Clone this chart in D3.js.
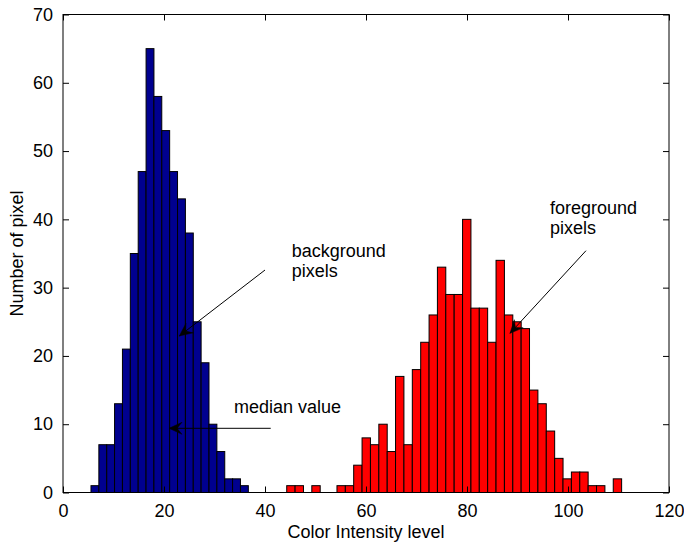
<!DOCTYPE html>
<html>
<head>
<meta charset="utf-8">
<script src="https://cdn.jsdelivr.net/npm/d3@7/dist/d3.min.js"></script>
<style>
  html, body { margin: 0; padding: 0; background: #fff; }
  svg { display: block; }
  text { font-family: "Liberation Sans", Arial, Helvetica, sans-serif; fill: #000; }
</style>
</head>
<body>
<svg id="chart" width="684" height="542"></svg>
<script>
// Histogram of background pixel intensities (bin centres and counts)
const backgroundBins = [6.32, 7.88, 9.44, 10.99, 12.55, 14.11, 15.67, 17.23, 18.78, 20.34,
                        21.90, 23.46, 25.02, 26.57, 28.13, 29.69, 31.25, 32.81, 34.36, 35.92];
const backgroundCounts = [1, 7, 7, 13, 21, 35, 47, 65, 58, 53,
                          47, 43, 38, 25, 19, 10, 6, 2, 2, 1];
const backgroundBinWidth = 1.558;

// Histogram of foreground pixel intensities
const foregroundBins = [45.13, 46.79, 48.45, 50.10, 51.76, 53.42, 55.08, 56.74, 58.39, 60.05,
                        61.71, 63.37, 65.03, 66.68, 68.34, 70.00, 71.66, 73.32, 74.97, 76.63,
                        78.29, 79.95, 81.61, 83.26, 84.92, 86.58, 88.24, 89.90, 91.55, 93.21,
                        94.87, 96.53, 98.19, 99.84, 101.50, 103.16, 104.82, 106.48, 108.13, 109.79];
const foregroundCounts = [1, 1, 0, 1, 0, 0, 1, 1, 4, 8,
                          7, 10, 6, 17, 7, 18, 22, 26, 33, 29,
                          29, 40, 27, 27, 22, 34, 26, 25, 24, 15,
                          13, 9, 5, 2, 3, 3, 1, 1, 0, 2];
const foregroundBinWidth = 1.658;

// Axis ticks
const xTicks = [0, 20, 40, 60, 80, 100, 120];
const yTicks = [0, 10, 20, 30, 40, 50, 60, 70];

// Text annotations with arrows (data coordinates)
const notes = [
  { lines: ["background", "pixels"], tx: 45.29, ty: 34.56, from: [40.0, 32.58], to: [23.03, 22.92] },
  { lines: ["median value"],         tx: 33.86, ty: 11.6,  from: [41.13, 9.40], to: [20.99, 9.40] },
  { lines: ["foreground", "pixels"], tx: 96.44, ty: 40.78, from: [103.56, 35.41], to: [88.51, 23.31] }
];

const svg = d3.select("#chart");
const plotLeft = 63, plotRight = 669, plotTop = 14.5, plotBottom = 492.5;
const fontSize = 18;

const x = d3.scaleLinear().domain([0, 120]).range([plotLeft, plotRight]);
const y = d3.scaleLinear().domain([0, 70]).range([plotBottom, plotTop]);

function drawBars(bins, counts, width, color) {
  const rows = bins.map((c, i) => ({ c, n: counts[i] })).filter(d => d.n > 0);
  svg.append("g")
    .selectAll("rect")
    .data(rows)
    .join("rect")
    .attr("x", d => x(d.c - width / 2))
    .attr("y", d => y(d.n))
    .attr("width", d => x(d.c + width / 2) - x(d.c - width / 2))
    .attr("height", d => y(0) - y(d.n))
    .attr("fill", color)
    .attr("stroke", "#000")
    .attr("stroke-width", 1);
}

drawBars(backgroundBins, backgroundCounts, backgroundBinWidth, "#00008f");
drawBars(foregroundBins, foregroundCounts, foregroundBinWidth, "#ff0000");

// Axes with inward ticks on all four sides
const tickLen = 6;
const gx = svg.append("g").attr("transform", `translate(0,${plotBottom})`)
  .call(d3.axisBottom(x).tickValues(xTicks).tickSizeInner(-tickLen).tickSizeOuter(0).tickPadding(11.5));
const gy = svg.append("g").attr("transform", `translate(${plotLeft},0)`)
  .call(d3.axisLeft(y).tickValues(yTicks).tickSizeInner(-tickLen).tickSizeOuter(0).tickPadding(10));
const gxt = svg.append("g").attr("transform", `translate(0,${plotTop})`)
  .call(d3.axisTop(x).tickValues(xTicks).tickSizeInner(-tickLen).tickSizeOuter(0).tickFormat(""));
const gyr = svg.append("g").attr("transform", `translate(${plotRight},0)`)
  .call(d3.axisRight(y).tickValues(yTicks).tickSizeInner(-tickLen).tickSizeOuter(0).tickFormat(""));

[gx, gy, gxt, gyr].forEach(g => {
  g.select(".domain").remove();
  g.selectAll(".tick line").attr("stroke", "#000").attr("stroke-width", 1);
  g.selectAll("text").attr("font-size", fontSize).attr("font-family", null).attr("fill", "#000");
});

svg.append("rect")
  .attr("x", plotLeft).attr("y", plotTop)
  .attr("width", plotRight - plotLeft).attr("height", plotBottom - plotTop)
  .attr("fill", "none").attr("stroke", "#000").attr("stroke-width", 1);

// Axis titles
svg.append("text")
  .attr("x", (plotLeft + plotRight) / 2).attr("y", 538)
  .attr("text-anchor", "middle").attr("font-size", fontSize)
  .text("Color Intensity level");

svg.append("text")
  .attr("transform", `translate(23,${(plotTop + plotBottom) / 2}) rotate(-90)`)
  .attr("text-anchor", "middle").attr("font-size", fontSize)
  .text("Number of pixel");

// Annotations
const ann = svg.append("g");
notes.forEach(n => {
  const t = ann.append("text")
    .attr("x", x(n.tx)).attr("y", y(n.ty))
    .attr("font-size", fontSize);
  n.lines.forEach((line, i) => {
    t.append("tspan").attr("x", x(n.tx)).attr("dy", i === 0 ? 0 : 20).text(line);
  });

  const x0 = x(n.from[0]), y0 = y(n.from[1]);
  const x1 = x(n.to[0]), y1 = y(n.to[1]);
  ann.append("line")
    .attr("x1", x0).attr("y1", y0).attr("x2", x1).attr("y2", y1)
    .attr("stroke", "#000").attr("stroke-width", 1);

  const len = Math.hypot(x1 - x0, y1 - y0);
  const ux = (x1 - x0) / len, uy = (y1 - y0) / len;
  const nx = -uy, ny = ux;
  const L = 13, W = 6, notch = 8;
  const pts = [
    [x1, y1],
    [x1 - L * ux + W * nx, y1 - L * uy + W * ny],
    [x1 - notch * ux, y1 - notch * uy],
    [x1 - L * ux - W * nx, y1 - L * uy - W * ny]
  ];
  ann.append("path")
    .attr("d", d3.line()(pts) + "Z")
    .attr("fill", "#000").attr("stroke", "#000").attr("stroke-width", 0.5);
});
</script>
</body>
</html>
